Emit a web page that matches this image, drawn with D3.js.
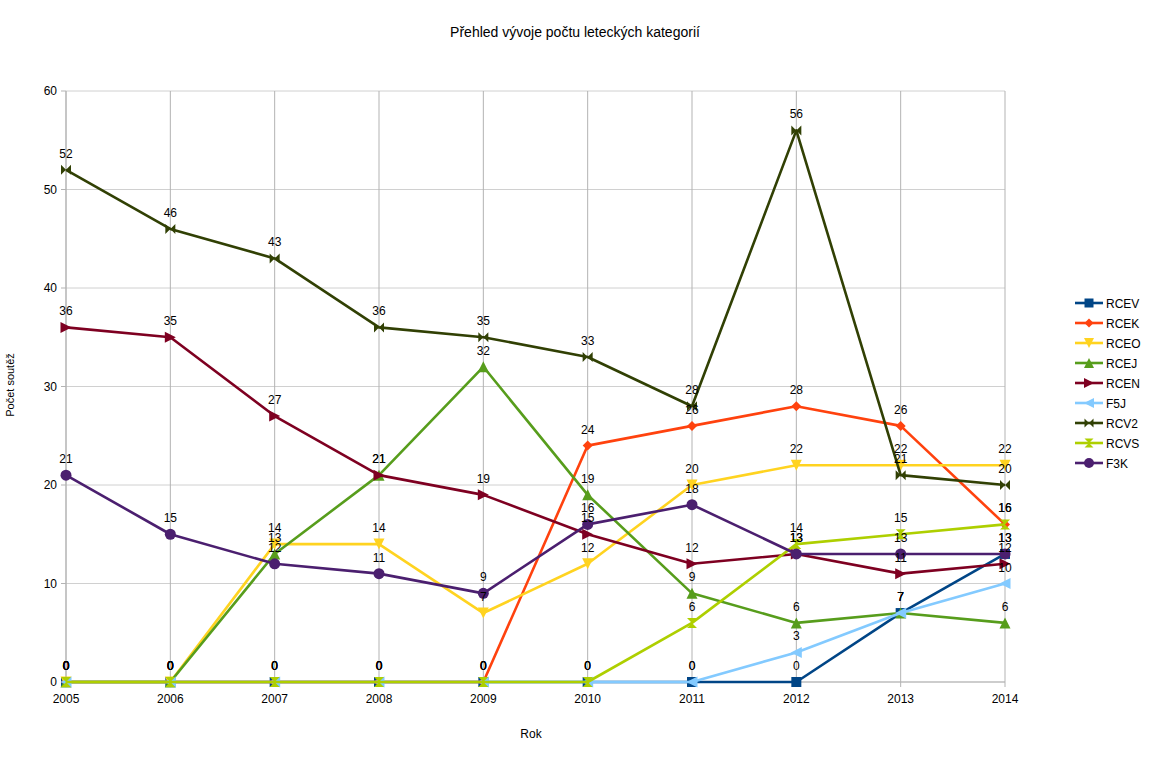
<!DOCTYPE html>
<html><head><meta charset="utf-8">
<script src="https://cdn.jsdelivr.net/npm/d3@7"></script>
<style>body{margin:0;background:#fff;} text{font-family:"Liberation Sans",Arial,sans-serif;}</style>
</head><body>
<svg id="chart" width="1150" height="769"></svg>
<script>
const years = [2005,2006,2007,2008,2009,2010,2011,2012,2013,2014];
const seriesNames = ["RCEV","RCEK","RCEO","RCEJ","RCEN","F5J","RCV2","RCVS","F3K"];
const RCEV = [0,0,0,0,0,0,0,0,7,13];
const RCEK = [0,0,0,0,0,24,26,28,26,16];
const RCEO = [0,0,14,14,7,12,20,22,22,22];
const RCEJ = [0,0,13,21,32,19,9,6,7,6];
const RCEN = [36,35,27,21,19,15,12,13,11,12];
const F5J  = [0,0,0,0,0,0,0,3,7,10];
const RCV2 = [52,46,43,36,35,33,28,56,21,20];
const RCVS = [0,0,0,0,0,0,6,14,15,16];
const F3K  = [21,15,12,11,9,16,18,13,13,13];
const yTicks = [0,10,20,30,40,50,60];
const colors = ["#004586","#ff420e","#ffd320","#579d1c","#7e0021","#83caff","#314004","#aecf00","#4b1f6f"];
const symbolsKey = ["square","diamond","down","up","right","left","bowtie","hourglass","circle"];
const values = [RCEV,RCEK,RCEO,RCEJ,RCEN,F5J,RCV2,RCVS,F3K];

const svg = d3.select("#chart");
const x = d3.scalePoint().domain(years).range([66,1005]);
const y = d3.scaleLinear().domain([0,60]).range([682,91]);

// grid
svg.append("g").selectAll("line").data(yTicks).join("line")
  .attr("x1",66).attr("x2",1005).attr("y1",d=>y(d)).attr("y2",d=>y(d))
  .attr("stroke","#d0d0d0").attr("stroke-width",1);
svg.append("g").selectAll("line").data(years).join("line")
  .attr("x1",d=>x(d)).attr("x2",d=>x(d)).attr("y1",91).attr("y2",687)
  .attr("stroke","#b3b3b3").attr("stroke-width",1);
// axes lines
svg.append("line").attr("x1",66).attr("x2",66).attr("y1",91).attr("y2",687).attr("stroke","#b3b3b3");
svg.append("line").attr("x1",61).attr("x2",1005).attr("y1",682).attr("y2",682).attr("stroke","#b3b3b3");
svg.append("g").selectAll("line").data(yTicks).join("line")
  .attr("x1",61).attr("x2",66).attr("y1",d=>y(d)).attr("y2",d=>y(d)).attr("stroke","#b3b3b3");

// tick labels
svg.append("g").selectAll("text").data(yTicks).join("text")
  .attr("x",57).attr("y",d=>y(d)+4).attr("text-anchor","end")
  .attr("font-size",12).attr("fill","#000").text(d=>d);
svg.append("g").selectAll("text").data(years).join("text")
  .attr("x",d=>x(d)).attr("y",703).attr("text-anchor","middle")
  .attr("font-size",12).attr("fill","#000").text(d=>d);

// titles
svg.append("text").attr("x",575).attr("y",37).attr("text-anchor","middle").attr("font-size",14).text("Přehled vývoje počtu leteckých kategorií");
svg.append("text").attr("x",531).attr("y",738).attr("text-anchor","middle").attr("font-size",12).text("Rok");
svg.append("text").attr("transform","translate(14,385) rotate(-90)").attr("text-anchor","middle").attr("font-size",11).text("Počet soutěž");

function marker(g, type, color, s){
  const h = s/2;
  let p;
  switch(type){
    case "square": p = `M${-h},${-h}H${h}V${h}H${-h}Z`; break;
    case "diamond": p = `M0,${-h}L${h},0L0,${h}L${-h},0Z`; break;
    case "down": p = `M${-h},${-h}L${h},${-h}L0,${h}Z`; break;
    case "up": p = `M${-h},${h}L${h},${h}L0,${-h}Z`; break;
    case "right": p = `M${-h},${-h}L${h},0L${-h},${h}Z`; break;
    case "left": p = `M${h},${-h}L${-h},0L${h},${h}Z`; break;
    case "bowtie": p = `M${-h},${-h}L${h},${h}L${h},${-h}L${-h},${h}Z`; break;
    case "hourglass": p = `M${-h},${-h}L${h},${-h}L${-h},${h}L${h},${h}Z`; break;
    case "circle": g.append("circle").attr("r",h).attr("fill",color); return;
  }
  g.append("path").attr("d",p).attr("fill",color);
}

const line = d3.line().x((d,i)=>x(years[i])).y(d=>y(d));
const markerSize = {square:10,diamond:10,down:11,up:11,right:11,left:11,bowtie:10,hourglass:10,circle:11};

values.forEach((vals,si)=>{
  const g = svg.append("g");
  g.append("path").datum(vals).attr("d",line).attr("fill","none")
    .attr("stroke",colors[si]).attr("stroke-width",2.6).attr("stroke-linejoin","round");
  vals.forEach((v,i)=>{
    const mg = g.append("g").attr("transform",`translate(${x(years[i])},${y(v)})`);
    marker(mg, symbolsKey[si], colors[si], markerSize[symbolsKey[si]]);
  });
});
// data labels
values.forEach((vals,si)=>{
  svg.append("g").selectAll("text").data(vals).join("text")
    .attr("x",(d,i)=>x(years[i])).attr("y",d=>y(d)-12)
    .attr("text-anchor","middle").attr("font-size",12).attr("fill","#000").text(d=>d);
});

// legend
const lg = svg.append("g");
seriesNames.forEach((n,i)=>{
  const yy = 303 + i*20;
  const g = lg.append("g");
  g.append("line").attr("x1",1075).attr("x2",1103).attr("y1",yy).attr("y2",yy).attr("stroke",colors[i]).attr("stroke-width",2.6);
  const mg = g.append("g").attr("transform",`translate(1089,${yy})`);
  marker(mg, symbolsKey[i], colors[i], markerSize[symbolsKey[i]]-1);
  g.append("text").attr("x",1106).attr("y",yy+4.5).attr("font-size",12).text(n);
});
</script>
</body></html>
